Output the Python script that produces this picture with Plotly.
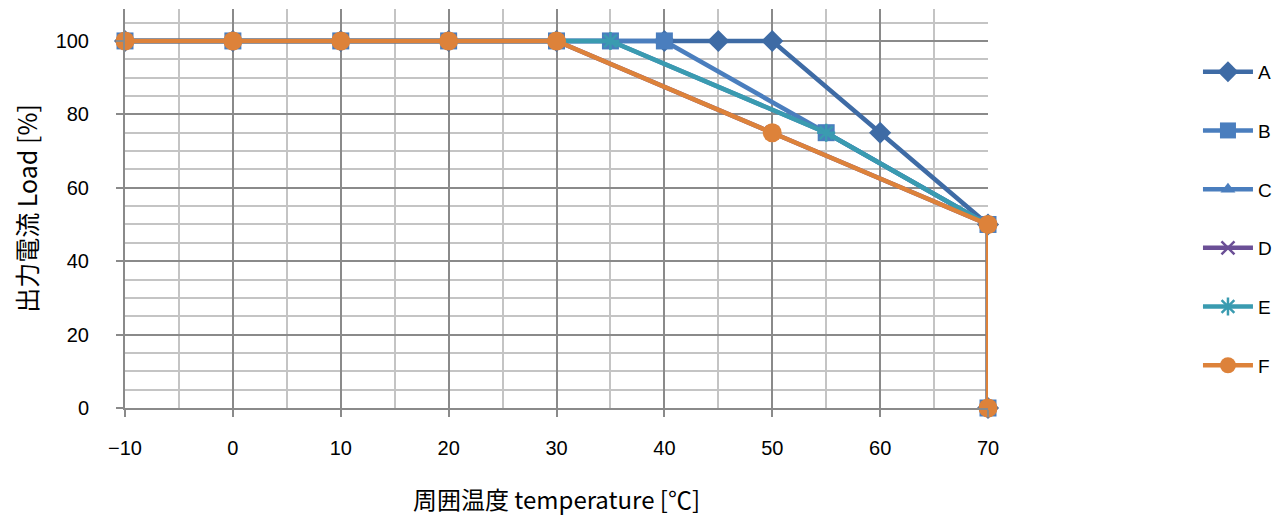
import plotly.graph_objects as go

names = ["A", "B", "C", "D", "E", "F"]
x_A = [-10, 0, 10, 20, 30, 40, 45, 50, 60, 70, 70]
y_A = [100, 100, 100, 100, 100, 100, 100, 100, 75, 50, 0]
x_B = [-10, 0, 10, 20, 30, 35, 40, 55, 70, 70]
y_B = [100, 100, 100, 100, 100, 100, 100, 75, 50, 0]
x_C = [-10, 0, 10, 20, 30, 35, 55, 70, 70]
y_C = [100, 100, 100, 100, 100, 100, 75, 50, 0]
x_D = [-10, 0, 10, 20, 30, 50, 70, 70]
y_D = [100, 100, 100, 100, 100, 75, 50, 0]
x_E = [-10, 0, 10, 20, 30, 35, 55, 70, 70]
y_E = [100, 100, 100, 100, 100, 100, 75, 50, 0]
x_F = [-10, 0, 10, 20, 30, 50, 70, 70]
y_F = [100, 100, 100, 100, 100, 75, 50, 0]

xs = [x_A, x_B, x_C, x_D, x_E, x_F]
ys = [y_A, y_B, y_C, y_D, y_E, y_F]
colors = ["#3E6BA5", "#4A7EBE", "#4A7EBE", "#6B4F96", "#3A9BB0", "#DD823A"]
symbols = ["diamond", "square", "triangle-up", "x-thin-open", "asterisk-open", "circle"]
sizes = [17, 17, 13, 13, 15, 19]

fig = go.Figure()
for n, x, y, c, s, sz in zip(names, xs, ys, colors, symbols, sizes):
    mk = dict(symbol=s, size=sz, color=c)
    if s.endswith("open"):
        mk["line"] = dict(color=c, width=2.5)
    fig.add_trace(go.Scatter(
        x=x, y=y, name=n, mode="lines+markers", legendgroup=n,
        line=dict(color=c, width=4.5), marker=mk, cliponaxis=False))

fig.update_layout(
    width=1288, height=522,
    margin=dict(l=117, r=308, t=1, b=122, autoexpand=False),
    plot_bgcolor="white", paper_bgcolor="white",
    font=dict(family="Liberation Sans, Arial, sans-serif", color="black", size=20),
    showlegend=True,
    legend=dict(x=1.2433, y=0.89, xanchor="left", yanchor="top",
                font=dict(size=19, family="Liberation Sans, sans-serif"),
                tracegroupgap=31, itemwidth=50, bgcolor="rgba(0,0,0,0)"),
)
fig.update_xaxes(
    range=[-10, 70], tickvals=[-10, 0, 10, 20, 30, 40, 50, 60, 70],
    ticktext=["−10", "0", "10", "20", "30", "40", "50", "60", "70"],
    showgrid=True, gridcolor="#8A8A8A", gridwidth=2,
    minor=dict(dtick=5, tick0=-10, showgrid=True, gridcolor="#C4C4C4", gridwidth=2),
    ticks="outside", ticklen=7, tickcolor="#8A8A8A", tickwidth=2,
    showline=True, linecolor="#8A8A8A", linewidth=2, zeroline=False,
    ticklabelstandoff=14,
    title=dict(text="周囲温度 temperature [℃]",
               font=dict(size=24, family="Noto Sans CJK JP, sans-serif"), standoff=34),
)
fig.update_yaxes(
    range=[0, 108.7], tickvals=[0, 20, 40, 60, 80, 100],
    showgrid=True, gridcolor="#8A8A8A", gridwidth=2,
    minor=dict(dtick=5, tick0=0, showgrid=True, gridcolor="#C4C4C4", gridwidth=2),
    ticks="outside", ticklen=7, tickcolor="#8A8A8A", tickwidth=2,
    showline=True, linecolor="#8A8A8A", linewidth=2, zeroline=False,
    ticklabelstandoff=23,
    title=dict(text="出力電流 Load [%]",
               font=dict(size=25, family="Noto Sans CJK JP, sans-serif"), standoff=16),
)
fig.write_html("out.html")
